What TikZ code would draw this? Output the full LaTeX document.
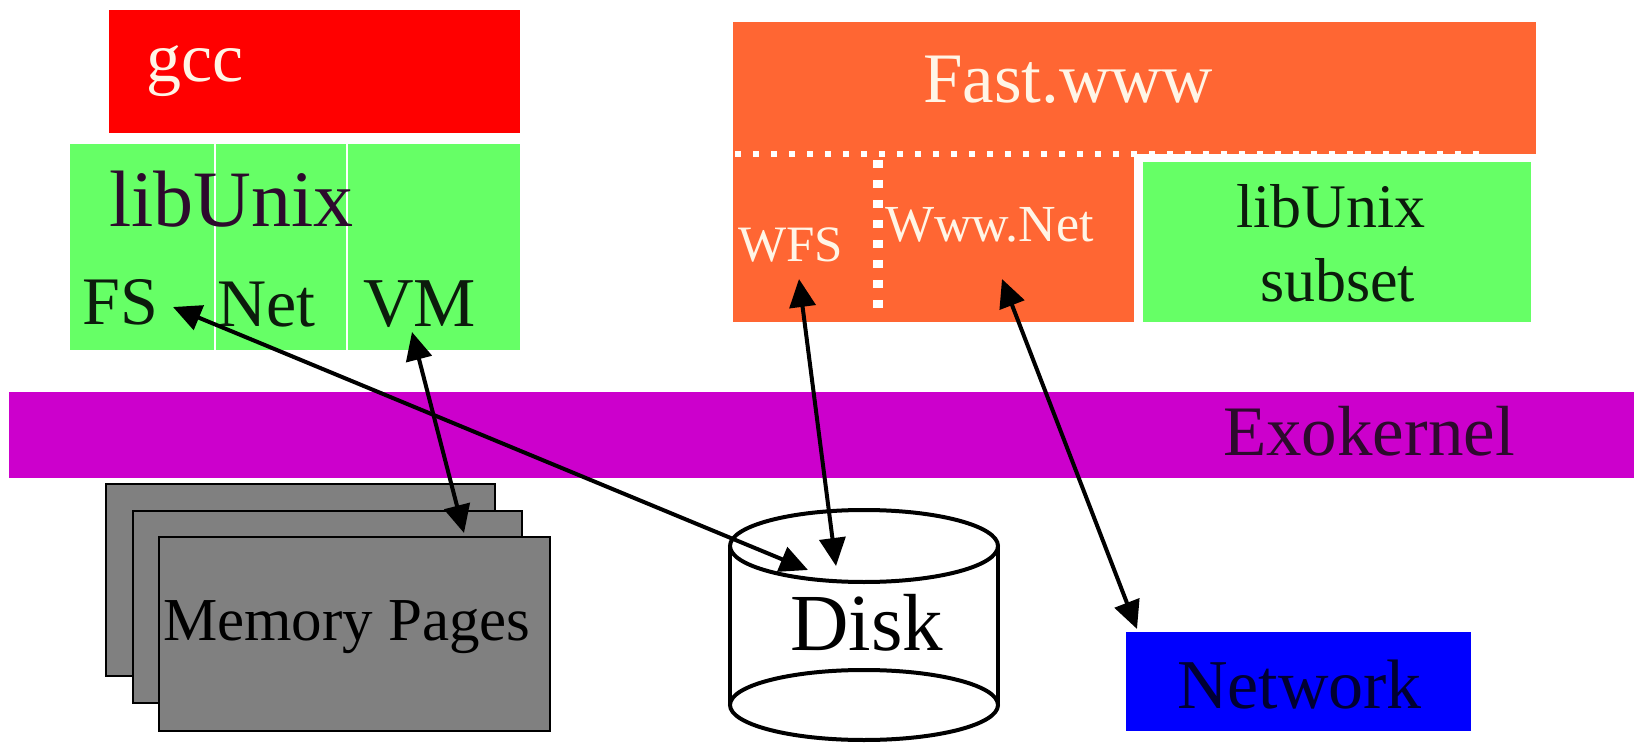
\documentclass[tikz,border=0pt]{standalone}
\usepackage{fontspec}
\setmainfont{Liberation Serif}
\usetikzlibrary{arrows.meta}
\definecolor{gccred}{RGB}{255,0,0}
\definecolor{libgreen}{RGB}{102,255,102}
\definecolor{fastorange}{RGB}{255,102,51}
\definecolor{exopurple}{RGB}{204,0,204}
\definecolor{pagegray}{RGB}{128,128,128}
\definecolor{netblue}{RGB}{0,0,255}
\definecolor{cream}{RGB}{255,245,230}
\definecolor{darkplum}{RGB}{45,10,45}
\definecolor{darkgreen}{RGB}{12,28,12}
\definecolor{darknavy}{RGB}{0,0,50}
\begin{document}
\begin{tikzpicture}[x=0.5pt,y=-0.5pt,
  lbl/.style={anchor=base west, inner sep=0pt, outer sep=0pt},
  fs/.style={font=\fontsize{#1}{#1}\selectfont},
  pagebox/.style={fill=pagegray, draw=black, line width=1pt},
  disklines/.style={draw=black, line width=2pt},
  dblarrow/.style={line width=2pt,
    {Triangle[length=14pt,width=13pt]}-{Triangle[length=14pt,width=13pt]}}]
\useasboundingbox (0,0) rectangle (1634,743);
\fill[white] (0,0) rectangle (1634,743);

% gcc
\fill[gccred] (109,10) rectangle (520,133);
\node[lbl, fs=35pt, text=cream] (gcc) at (146,82) {gcc};

% libUnix (left)
\fill[libgreen] (70,144) rectangle (520,350);
\draw[white, line width=0.7pt] (215,144) -- (215,350) (347,144) -- (347,350);
\node[lbl, fs=40pt, text=darkplum] (libunix) at (109,227) {libUnix};
\node[lbl, fs=34pt, text=darkgreen] (fsnode) at (83,325) {FS};
\node[lbl, fs=34pt, text=darkgreen] (netnode) at (217,327) {Net};
\node[lbl, fs=35pt, text=darkgreen] (vmnode) at (363,327) {VM};

% Fast.www
\fill[fastorange] (733,22) rectangle (1536,154);
\fill[fastorange] (733,154) rectangle (1134,322);
\draw[white, line width=3.2pt, dash pattern=on 3.2pt off 5.8pt] (735,154) -- (1487,154);
\draw[white, line width=5pt, dash pattern=on 4pt off 6pt] (878,160) -- (878,312);
\node[lbl, fs=35.5pt, text=cream] (fast) at (923,103) {Fast.www};
\node[lbl, fs=25.5pt, text=cream] (wfs) at (738,262) {WFS};
\node[lbl, fs=26pt, text=cream] (wwwnet) at (885,242) {Www.Net};

% libUnix subset
\fill[libgreen] (1143,162) rectangle (1531,322);
\node[lbl, fs=31pt, text=darkgreen] (libsub) at (1236,228) {libUnix};
\node[lbl, fs=31pt, text=darkgreen] (subset) at (1260,302) {subset};

% Exokernel
\fill[exopurple] (9,392) rectangle (1634,478);
\node[lbl, fs=35.5pt, text=darkplum] (exo) at (1223,455) {Exokernel};

% Memory pages
\path[pagebox] (106,484) rectangle (495,676);
\path[pagebox] (133,511) rectangle (522,703);
\path[pagebox] (159,537) rectangle (550,731);
\node[lbl, fs=30.5pt, text=black] (mem) at (163,640) {Memory Pages};

% Disk
\fill[white] (730,546) rectangle (998,705);
\draw[disklines] (730,546) -- (730,705) (998,546) -- (998,705);
\draw[disklines] (864,705) ellipse [x radius=67pt, y radius=17.5pt];
\draw[disklines, fill=white] (864,546) ellipse [x radius=67pt, y radius=18pt];
\node[lbl, fs=40.5pt, text=black] (disk) at (790,650) {Disk};

% Network
\fill[netblue] (1126,632) rectangle (1471,731);
\node[lbl, fs=35pt, text=darknavy] (network) at (1177,708) {Network};

% arrow end points
\coordinate (fsEnd) at (173,307);
\coordinate (diskA) at (808,570);
\coordinate (vmEnd) at (412,332);
\coordinate (memEnd) at (464,533);
\coordinate (wfsEnd) at (799,279);
\coordinate (diskB) at (836,566);
\coordinate (wwwEnd) at (1002,279);
\coordinate (netEnd) at (1137,629);

\draw[dblarrow] (fsEnd) -- (diskA);
\draw[dblarrow] (vmEnd) -- (memEnd);
\draw[dblarrow] (wfsEnd) -- (diskB);
\draw[dblarrow] (wwwEnd) -- (netEnd);
\end{tikzpicture}
\end{document}
